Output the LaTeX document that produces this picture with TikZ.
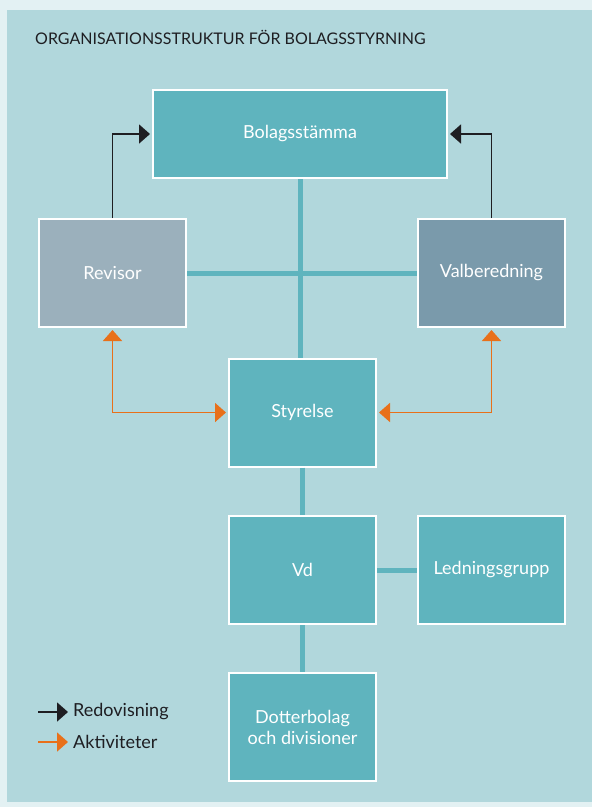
\documentclass[tikz,border=0pt]{standalone}
\usepackage{fontspec}
\setmainfont{Lato}
\usetikzlibrary{arrows.meta}
\definecolor{outerbg}{HTML}{E3F1F3}
\definecolor{panel}{HTML}{B1D7DC}
\definecolor{teal}{HTML}{5FB4BE}
\definecolor{revgrey}{HTML}{9BB0BC}
\definecolor{valgrey}{HTML}{7A9AAB}
\definecolor{arrorange}{HTML}{E8701A}
\definecolor{ink}{HTML}{1E1E22}
\tikzset{
  orgbox/.style={draw=white, line width=2pt, fill=teal, text=white,
    minimum width=147pt, minimum height=108pt, inner sep=0pt, align=center,
    font=\fontsize{18}{21}\selectfont},
  tealline/.style={draw=teal, line width=5pt},
  bigtip/.tip={Triangle[length=11pt,width=19pt]},
  blackarrow/.style={draw=ink, line width=1.7pt, -bigtip},
  orangearrow/.style={draw=arrorange, line width=1.6pt, bigtip-bigtip},
  orangeone/.style={draw=arrorange, line width=1.6pt, -bigtip},
  legendtext/.style={anchor=west, text=ink, inner sep=0pt, font=\fontsize{18}{21}\selectfont}
}
\begin{document}
\begin{tikzpicture}[x=1pt,y=-1pt]
\useasboundingbox (0,0) rectangle (592,807);
\fill[outerbg] (0,0) rectangle (592,807);
\fill[panel] (7,10) rectangle (592,802);
\node[anchor=base west, text=ink, inner sep=0pt, font=\fontsize{16}{18}\selectfont] (title) at (35,44) {ORGANISATIONSSTRUKTUR FÖR BOLAGSSTYRNING};

\node[orgbox, minimum width=294pt, minimum height=88pt] (bolag) at (300,134) {Bolagsstämma};
\node[orgbox, fill=revgrey] (revisor) at (112.5,273) {Revisor};
\node[orgbox, fill=valgrey] (valb) at (491.5,273) {Valberedning};
\node[orgbox] (styr) at (302.5,412.5) {Styrelse};
\node[orgbox] (vd) at (302.5,570) {Vd};
\node[orgbox] (ledn) at (491.5,570) {Ledningsgrupp};
\node[orgbox] (dotter) at (302.5,727) {Dotterbolag\\och divisioner};

\draw[tealline] (bolag.south) -- (bolag.south |- styr.north);
\draw[tealline] (revisor.east) -- (valb.west);
\draw[tealline] (styr.south) -- (vd.north);
\draw[tealline] (vd.east) -- (ledn.west);
\draw[tealline] (vd.south) -- (dotter.north);

\draw[blackarrow, shorten >=2pt] (revisor.north) |- (bolag.west);
\draw[blackarrow, shorten >=2pt] (valb.north) |- (bolag.east);
\draw[orangearrow, shorten <=2pt, shorten >=2pt] (revisor.south) |- (styr.west);
\draw[orangearrow, shorten <=2pt, shorten >=2pt] (valb.south) |- (styr.east);

\coordinate (redstart) at (38,712);
\coordinate (aktstart) at (38,742);
\node[legendtext] (redtxt) at (73,712) {Redovisning};
\node[legendtext] (akttxt) at (73,742) {Aktiviteter};
\draw[blackarrow, shorten >=5pt] (redstart) -- (redtxt.west);
\draw[orangeone, shorten >=5pt] (aktstart) -- (akttxt.west);
\end{tikzpicture}
\end{document}
